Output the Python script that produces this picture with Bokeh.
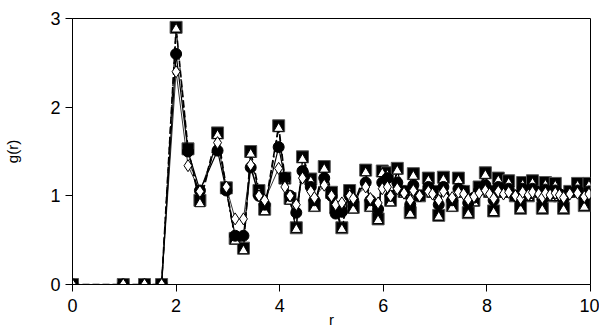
from bokeh.plotting import figure
from bokeh.models import Range1d, FixedTicker
from bokeh.embed import file_html
from bokeh.resources import INLINE

r = [0.0, 0.98, 1.39, 1.72, 2.0, 2.23, 2.46, 2.8, 2.97, 3.14, 3.3, 3.44, 3.6, 3.71, 3.98,
     4.1, 4.2, 4.32, 4.44, 4.6, 4.67, 4.86, 5.0, 5.08, 5.2, 5.35, 5.42, 5.66, 5.75, 5.9,
     5.98, 6.08, 6.14, 6.27, 6.4, 6.52, 6.58, 6.7, 6.87, 6.95, 7.07, 7.16, 7.33, 7.45,
     7.55, 7.64, 7.75, 7.85, 7.97, 8.05, 8.13, 8.22, 8.32, 8.42, 8.55, 8.65, 8.69, 8.8,
     8.88, 9.0, 9.07, 9.13, 9.22, 9.32, 9.4, 9.48, 9.6, 9.75, 9.88, 9.97]

g_square = [0, 0, 0, 0, 2.9, 1.53, 0.95, 1.71, 1.09, 0.52, 0.41, 1.5, 1.06, 0.85, 1.79,
            1.2, 0.97, 0.64, 1.44, 1.19, 0.89, 1.33, 1.04, 0.87, 0.64, 1.06, 0.87, 1.29, 0.89, 0.74,
            1.28, 1.26, 0.95, 1.31, 1.05, 0.81, 1.25, 1.0, 1.2, 1.05, 0.78, 1.21, 0.89, 1.2,
            1.05, 0.81, 0.95, 1.1, 1.26, 1.05, 0.83, 1.2, 1.05, 1.17, 1.0, 0.86, 1.15, 1.0,
            1.17, 1.05, 0.86, 1.15, 1.0, 1.14, 1.0, 0.86, 1.05, 1.14, 0.89, 1.14]

g_triangle = [0, 0, 0, 0, 2.88, 1.5, 0.91, 1.68, 1.06, 0.49, 0.38, 1.47, 1.03, 0.82, 1.76,
              1.17, 0.94, 0.62, 1.41, 1.16, 0.86, 1.3, 1.01, 0.84, 0.62, 1.03, 0.84, 1.26, 0.86, 0.72,
              1.25, 1.23, 0.92, 1.28, 1.02, 0.79, 1.22, 0.98, 1.17, 1.02, 0.76, 1.18, 0.86, 1.17,
              1.02, 0.79, 0.92, 1.07, 1.23, 1.02, 0.81, 1.17, 1.02, 1.14, 0.98, 0.84, 1.12, 0.98,
              1.14, 1.02, 0.84, 1.12, 0.98, 1.11, 0.98, 0.84, 1.02, 1.11, 0.87, 1.11]

g_circle = [0, 0, 0, 0, 2.6, 1.5, 1.06, 1.51, 1.06, 0.55, 0.55, 1.32, 1.0, 0.9, 1.55,
            1.2, 1.0, 0.81, 1.28, 1.1, 0.95, 1.2, 1.0, 0.8, 0.82, 1.0, 0.95, 1.15, 0.95, 0.85,
            1.15, 1.2, 1.0, 1.15, 1.05, 0.9, 1.12, 1.0, 1.1, 1.05, 0.9, 1.1, 0.95, 1.08,
            1.05, 0.92, 0.98, 1.06, 1.12, 1.05, 0.95, 1.1, 1.04, 1.08, 1.0, 0.95, 1.08, 1.02,
            1.08, 1.04, 0.96, 1.07, 1.02, 1.06, 1.02, 0.96, 1.04, 1.06, 0.98, 1.05]

g_diamond = [0, 0, 0, 0, 2.4, 1.34, 1.05, 1.6, 1.1, 0.74, 0.74, 1.35, 1.0, 0.95, 1.31,
             1.1, 1.0, 0.9, 1.2, 1.05, 0.98, 1.12, 1.0, 0.9, 0.92, 1.0, 0.97, 1.1, 0.97, 0.92,
             1.08, 1.1, 1.0, 1.08, 1.03, 0.95, 1.06, 1.0, 1.05, 1.02, 0.95, 1.05, 0.98, 1.04,
             1.02, 0.96, 0.99, 1.03, 1.06, 1.02, 0.97, 1.05, 1.02, 1.04, 1.0, 0.97, 1.04, 1.01,
             1.04, 1.02, 0.98, 1.03, 1.01, 1.03, 1.01, 0.98, 1.02, 1.03, 0.99, 1.02]

x_ticks = [0, 2, 4, 6, 8, 10]
y_ticks = [0, 1, 2, 3]

p = figure(width=599, height=333, output_backend="svg", toolbar_location=None,
           x_range=Range1d(0, 10), y_range=Range1d(0, 3),
           min_border_left=72, min_border_right=9, min_border_top=18, min_border_bottom=49)
p.background_fill_color = "white"
p.border_fill_color = "white"
p.outline_line_color = "black"
p.outline_line_width = 1
p.xgrid.visible = False
p.ygrid.visible = False

font = "Liberation Sans"
for ax, ticks in ((p.xaxis[0], x_ticks), (p.yaxis[0], y_ticks)):
    ax.ticker = FixedTicker(ticks=ticks)
    ax.minor_tick_line_color = None
    ax.major_tick_in = 0
    ax.major_tick_out = 7
    ax.major_tick_line_color = "black"
    ax.axis_line_color = "black"
    ax.major_label_text_font = font
    ax.major_label_text_font_size = "18px"
    ax.major_label_text_color = "black"
    ax.axis_label_text_font = font
    ax.axis_label_text_font_size = "15px"
    ax.axis_label_text_font_style = "normal"
    ax.axis_label_text_color = "black"

p.xaxis.axis_label = "r"
p.yaxis.axis_label = "g(r)"
p.xaxis.major_label_standoff = 7
p.yaxis.major_label_standoff = 5
p.xaxis.axis_label_standoff = -4
p.yaxis.axis_label_standoff = 26

# squares: dashed line
p.line(r, g_square, line_color="black", line_width=1.6, line_dash="7 3")
p.scatter(r, g_square, marker="square", size=12, fill_color="black", line_color="#555555", line_width=1)
# triangles: dash-dot line
p.line(r, g_triangle, line_color="black", line_width=1.2, line_dash="8 3 2 3")
p.scatter(r, g_triangle, marker="triangle", size=10, fill_color="white", line_color="black", line_width=1)
# circles: solid line
p.line(r, g_circle, line_color="black", line_width=1.2)
p.scatter(r, g_circle, marker="circle", size=11, fill_color="black", line_color="black")
# diamonds: thin solid line
p.line(r, g_diamond, line_color="black", line_width=0.8)
p.scatter(r, g_diamond, marker="diamond", size=12, fill_color="white", line_color="black", line_width=1)

open("out.html", "w").write(file_html(p, INLINE))
